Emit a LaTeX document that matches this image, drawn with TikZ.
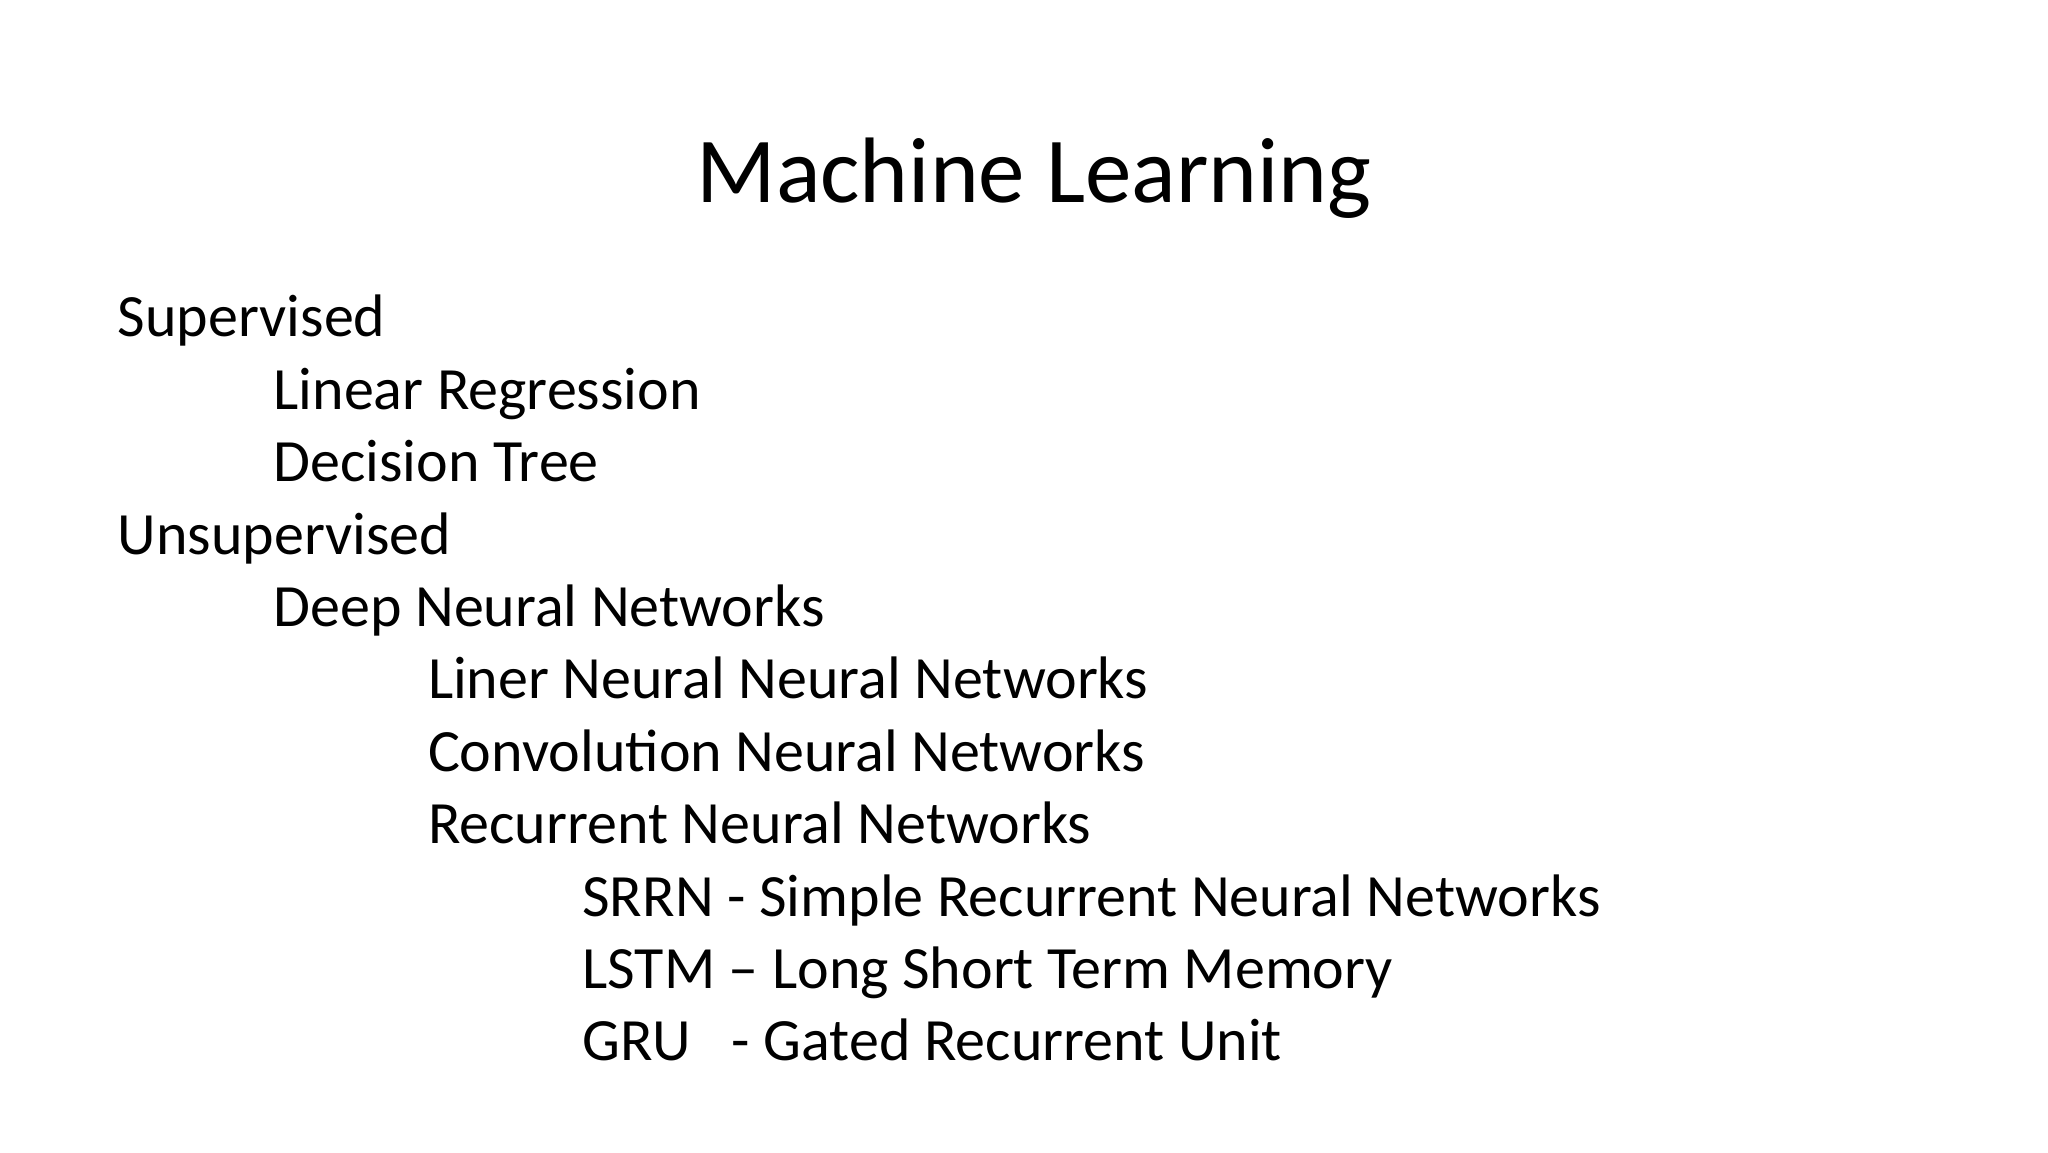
\documentclass[tikz,border=0pt]{standalone}
\usepackage{fontspec}
\setmainfont{Carlito}
\begin{document}
\begin{tikzpicture}[x=1pt,y=1pt,
  item/.style={anchor=base west,inner sep=0pt,font=\fontsize{30}{36}\selectfont}]
\useasboundingbox (0,0) rectangle (1024,-576);
\node[anchor=base,inner sep=0pt,font=\fontsize{46.5}{56}\selectfont] (title) at (517,-101) {Machine Learning};
\node[item] (a) at (58.7,-168.4) {Supervised};
\node[item] (b) at (136.6,-204.6) {Linear Regression};
\node[item] (c) at (136.6,-240.8) {Decision Tree};
\node[item] (d) at (58.7,-277.0) {Unsupervised};
\node[item] (e) at (136.6,-313.2) {Deep Neural Networks};
\node[item] (f) at (213.8,-349.4) {Liner Neural Neural Networks};
\node[item] (g) at (213.8,-385.6) {Convolution Neural Networks};
\node[item] (h) at (213.8,-421.8) {Recurrent Neural Networks};
\node[item] (i) at (291,-458.0) {SRRN - Simple Recurrent Neural Networks};
\node[item] (j) at (291,-494.2) {LSTM – Long Short Term Memory};
\node[item] (k) at (291,-530.4) {GRU\hspace{0.45em} - Gated Recurrent Unit};
\end{tikzpicture}
\end{document}
